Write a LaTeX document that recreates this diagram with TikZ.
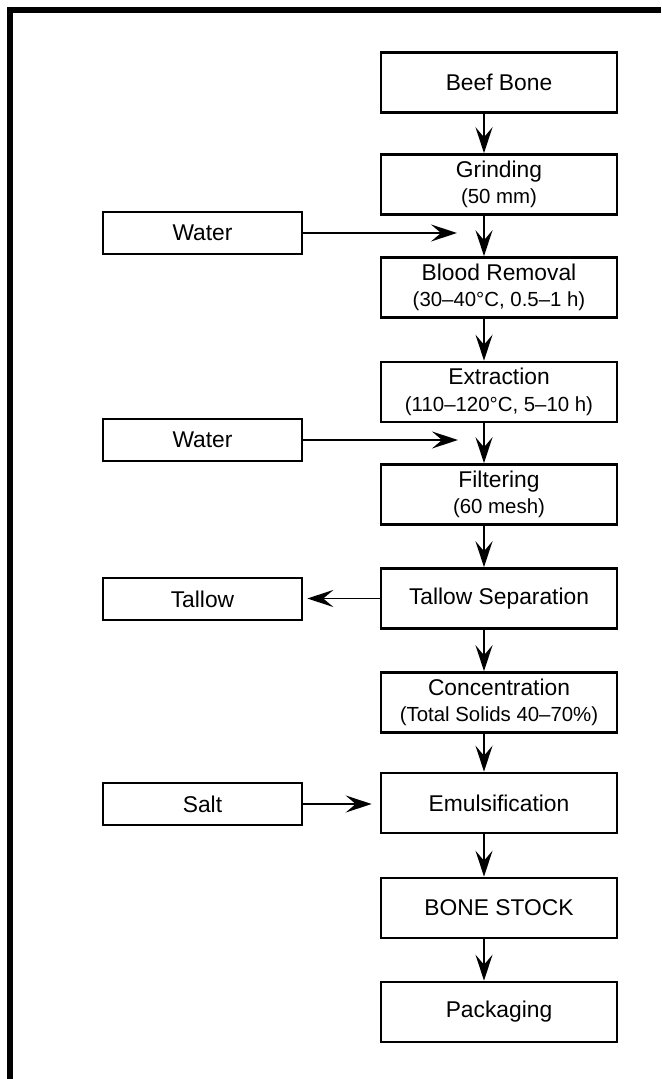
\documentclass[tikz,border=0pt]{standalone}
\usepackage{fontspec}
\setmainfont{Liberation Sans}
\usetikzlibrary{arrows.meta}
\newcommand\subline[1]{{\fontsize{10.2}{13}\selectfont #1}}
\begin{document}
\begin{tikzpicture}[x=0.5pt, y=-0.5pt, font=\fontsize{11.4}{13.2}\selectfont, line join=miter,
	stepbox/.style={draw, line width=1.3pt, minimum width=118pt, minimum height=30pt, inner sep=0pt, align=center},
	sidebox/.style={draw, line width=1.3pt, minimum width=99.5pt, minimum height=21pt, inner sep=0pt},
	flow/.style={line width=0.9pt, -{Stealth[length=13pt, width=8.5pt, inset=5pt]}}]
		\useasboundingbox (0,0) rectangle (661,1079);
		% frame, only top and left edge inside the page
		\draw[line width=3pt] (9.7,1079) -- (9.7,9.7) -- (661,9.7);
		% main column
		\foreach \n/\y/\t in {beef/82.5/{Beef Bone},
			grind/184.5/{Grinding\\\subline{(50 mm)}},
			blood/287.5/{Blood Removal\\\subline{(30–40°C, 0.5–1 h)}},
			extr/392/{Extraction\\\subline{(110–120°C, 5–10 h)}},
			filt/494.5/{Filtering\\\subline{(60 mesh)}},
			tsep/598.5/{Tallow Separation},
			conc/702.5/{Concentration\\\subline{(Total Solids 40–70\%)}},
			emul/803/{Emulsification},
			stock/908/{BONE STOCK},
			pack/1012/{Packaging}}
			\node[stepbox] (\n) at (499,\y) {\t};
		% side column
		\foreach \n/\y/\t in {water/233/Water, waterb/440/Water, tallow/599/Tallow, salt/804/Salt}
			\node[sidebox] (\n) at (202.5,\y) {\t};
		\coordinate (wa) at (457,233);
		\coordinate (wb) at (458,440);
		% connectors
		\foreach \a/\b in {beef/grind, grind/blood, blood/extr, extr/filt, filt/tsep,
			tsep/conc, conc/emul, emul/stock, stock/pack}
			\draw[flow] ([xshift=-7.5pt]\a.south) -- ([xshift=-7.5pt]\b.north);
		\draw[flow] (water.east) -- (wa);
		\draw[flow] (waterb.east) -- (wb);
		\draw[flow, shorten >=2pt] (tsep.west) -- (tsep.west -| tallow.east);
		\draw[flow, shorten >=4pt] (salt.east) -- (salt.east -| emul.west);
\end{tikzpicture}
\end{document}
